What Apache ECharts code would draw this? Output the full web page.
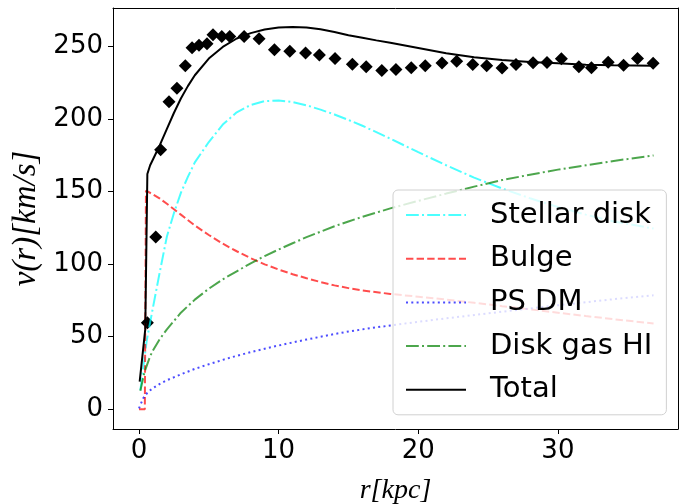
<!DOCTYPE html>
<html><head><meta charset="utf-8">
<script src="https://cdn.jsdelivr.net/npm/echarts@6/dist/echarts.min.js"></script>
<style>html,body{margin:0;padding:0;background:#fff}#c{width:683px;height:504px}</style>
</head><body><div id="c"></div>
<script>
// Tick labels
const xTicks = [0, 10, 20, 30];
const yTicks = [0, 50, 100, 150, 200, 250];

// Series names
const names = ['Stellar disk', 'Bulge', 'PS DM', 'Disk gas HI', 'Total'];

// Stellar disk
const rDisk = [0.1,0.55,1,1.5,2,2.5,3,3.5,4,4.5,5,6,7,8,9,10,11,12,13,14,15,16,17,18,20,22,24,26,28,30,32,34,36.85];
const vDisk = [13,47,70,95,119,135,149,160,170,177,184,196,204.5,209.5,212.2,212.6,211.5,209.3,206.3,203,199.2,195.2,190.8,186.3,177,168,159.5,152,145.3,139.3,134,129.3,124.4];

// Bulge
const rBulge = [0,0.42,0.5,1,1.5,2,3,4,5,6,7,8,9,10,11,12,13,14,15,16,18,20,22,24,26,28,30,32,34,36.85];
const vBulge = [0,0,150.5,148,145,141.5,134,126.5,120,114,108.8,104,99.8,96.2,93,90.2,87.6,85.3,83.4,81.8,79.4,77.5,75.5,73.3,71,68.8,66.5,64.2,62,59];

// PS DM
const rDM = [0,0.3,0.65,1,1.5,2,3,4,5,6,7,8,9,10,11,12,13,14,15,16,17,18,20,22,24,26,28,30,32,34,36.85];
const vDM = [0.6,7.5,12,14.5,17.5,20,24,27.8,31,34,36.8,39.3,41.7,43.9,46,48,49.9,51.8,53.5,55,56.4,57.7,60.2,62.6,64.9,67.2,69.4,71.6,73.7,75.8,78.5];

// Disk gas HI
const rGas = [0.1,0.4,0.8,1,1.5,2,3,4,5,6,7,8,9,10,11,12,13,14,15,16,18,20,22,24,26,28,30,32,34,36.85];
const vGas = [12.7,25.8,36.5,40.5,48.5,55,66.5,75.5,83,89.5,95,100.5,105.5,110,114.3,118.5,122.3,126,129.3,132.5,138.3,143.5,148.5,153.3,157.8,161.5,165,168,171,174.8];

// Total
const rTot = [0.05,0.45,0.6,0.8,1,1.5,2,2.5,3,3.5,4,5,6,7,8,9,10,11,12,13,14,15,16,17,18,20,22,24,26,28,30,32,34,36.85];
const vTot = [19,55,162,168,172,182,193,204,214,222.5,230,241.5,249.5,255.3,259,261.5,262.8,263.2,262.8,261.6,259.8,257.6,255.8,254,252.3,248.8,245.2,242.4,240.5,239.2,238.2,237.3,236.8,236.5];

// Observed rotation curve
const rObs = [0.6,1.2,1.55,2.15,2.72,3.32,3.8,4.3,4.87,5.3,5.93,6.5,7.53,8.6,9.7,10.8,11.93,12.92,14.04,15.28,16.27,17.39,18.4,19.5,20.5,21.7,22.75,23.9,24.9,26.0,27.0,28.22,29.22,30.25,31.5,32.4,33.6,34.7,35.7,36.82];
const vObs = [59.5,118.6,178.7,211.8,221.1,236.5,249,250.6,251.6,257.8,256.7,256.7,256.7,255.1,247.6,246.6,245.3,243.9,241.5,237.5,235.8,233.3,233.9,235.1,236.5,238.5,239.7,237.4,236.5,234.9,237.4,238.6,238.8,241.3,235.8,235.1,239,236.8,241.6,238.3];

function pairs(xs, ys) { return xs.map((x, i) => [x, ys[i]]); }

const chart = echarts.init(document.getElementById('c'), null, {renderer: 'canvas'});
const dashDot = [12.8, 3.2, 2, 3.2];
function lineSeries(name, xs, ys, color, type) {
  return {
    name: name, type: 'line', data: pairs(xs, ys), symbol: 'none', showSymbol: false,
    smooth: false, silent: true,
    itemStyle: {color: color},
    lineStyle: {color: color, width: 2, type: type}
  };
}
const X_MIN = -1.86, X_MAX = 38.6, Y_MIN = -13.6, Y_MAX = 276.3;
const frameAxis = {show: true, onZero: false, lineStyle: {color: '#000', width: 1}};
const option = {
  animation: false,
  grid: {left: 113, right: 5, top: 8, bottom: 75, outerBoundsMode: 'none', containLabel: false},
  xAxis: [{
    type: 'value', min: X_MIN, max: X_MAX, position: 'bottom',
    name: 'r[kpc]', nameLocation: 'middle', nameGap: 48,
    nameTextStyle: {fontFamily: 'Liberation Serif', fontStyle: 'italic', fontSize: 28, color: '#000'},
    axisLine: frameAxis,
    axisTick: {show: true, inside: false, length: 5, customValues: xTicks, lineStyle: {color: '#000', width: 1}},
    axisLabel: {customValues: xTicks, fontFamily: 'DejaVu Sans', fontSize: 26, color: '#000', margin: 9},
    splitLine: {show: false}
  }, {
    type: 'value', min: X_MIN, max: X_MAX, position: 'top',
    axisLine: frameAxis, axisTick: {show: false}, axisLabel: {show: false}, splitLine: {show: false}
  }],
  yAxis: [{
    type: 'value', min: Y_MIN, max: Y_MAX, position: 'left',
    name: 'v(r)[km/s]', nameLocation: 'middle', nameGap: 68, nameRotate: 90,
    nameTextStyle: {fontFamily: 'Liberation Serif', fontStyle: 'italic', fontSize: 33, color: '#000'},
    axisLine: frameAxis,
    axisTick: {show: true, inside: false, length: 5, customValues: yTicks, lineStyle: {color: '#000', width: 1}},
    axisLabel: {customValues: yTicks, fontFamily: 'DejaVu Sans', fontSize: 26, color: '#000', margin: 10},
    splitLine: {show: false}
  }, {
    type: 'value', min: Y_MIN, max: Y_MAX, position: 'right',
    axisLine: frameAxis, axisTick: {show: false}, axisLabel: {show: false}, splitLine: {show: false}
  }],
  legend: {
    orient: 'vertical', left: 393, top: 190,
    itemWidth: 60, itemHeight: 14, itemGap: 13.7,
    padding: [10, 14, 10, 12],
    backgroundColor: 'rgba(255,255,255,0.8)', borderColor: '#d0d0d0', borderWidth: 1, borderRadius: 5,
    itemStyle: {opacity: 0},
    textStyle: {fontFamily: 'DejaVu Sans', fontSize: 29, color: '#000', lineHeight: 30, padding: [0, 0, 0, 19]},
    data: names, selectedMode: false
  },
  series: [
    lineSeries(names[0], rDisk, vDisk, 'rgba(0,255,255,0.7)', dashDot),
    lineSeries(names[1], rBulge, vBulge, 'rgba(255,0,0,0.7)', [7.4, 3.2]),
    lineSeries(names[2], rDM, vDM, 'rgba(0,0,255,0.7)', [2, 3.3]),
    lineSeries(names[3], rGas, vGas, 'rgba(0,128,0,0.7)', dashDot),
    lineSeries(names[4], rTot, vTot, '#000', 'solid'),
    {name: 'Observed', type: 'scatter', data: pairs(rObs, vObs), symbol: 'diamond', symbolSize: 13,
     itemStyle: {color: '#000', opacity: 1}, silent: true}
  ]
};
chart.setOption(option);
</script></body></html>
